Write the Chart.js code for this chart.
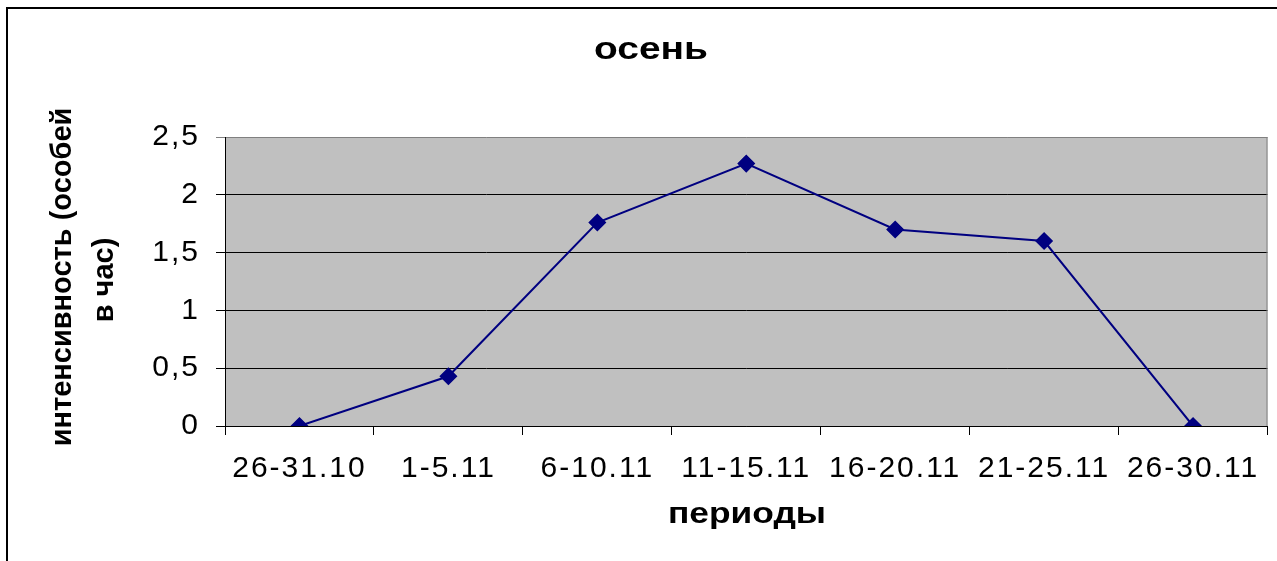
<!DOCTYPE html>
<html>
<head>
<meta charset="utf-8">
<script src="https://cdn.jsdelivr.net/npm/chart.js@4"></script>
<style>
    html, body { margin: 0; padding: 0; background: #ffffff; }
    #wrap { width: 1277px; height: 561px; position: relative; }
</style>
</head>
<body>
<div id="wrap"><canvas id="myChart" width="1277" height="561"></canvas></div>
<script>
// данные графика
const periods = ["26-31.10", "1-5.11", "6-10.11", "11-15.11", "16-20.11", "21-25.11", "26-30.11"];
const intensity = [0, 0.43, 1.76, 2.27, 1.70, 1.60, 0];
const chartTitle = "осень";
const xTitle = "периоды";
const yTitleLines = ["интенсивность (особей", "в час)"];

const FONT = "'Liberation Sans', Arial, sans-serif";

// текст, растянутый по ширине как в оригинале
function wideText(ctx, text, x, y, width) {
    const w = ctx.measureText(text).width;
    ctx.save();
    ctx.translate(x, y);
    ctx.scale(width / w, 1);
    ctx.fillText(text, 0, 0);
    ctx.restore();
}

// рамка, фон области построения и подписи
const decor = {
    id: 'decor',
    beforeDraw(chart) {
        const ctx = chart.ctx;
        const a = chart.chartArea;
        ctx.save();
        ctx.fillStyle = '#ffffff';
        ctx.fillRect(0, 0, chart.width, chart.height);
        ctx.strokeStyle = '#000000';
        ctx.lineWidth = 2;
        ctx.beginPath();
        ctx.moveTo(7, chart.height + 5);
        ctx.lineTo(7, 8);
        ctx.lineTo(chart.width + 5, 8);
        ctx.stroke();
        ctx.fillStyle = '#c0c0c0';
        ctx.fillRect(a.left, a.top, a.right - a.left, a.bottom - a.top);
        ctx.restore();
        // разрядка подписей делений
        ctx.letterSpacing = '2px';
    },
    afterDraw(chart) {
        const ctx = chart.ctx;
        const a = chart.chartArea;
        ctx.letterSpacing = '0px';
        ctx.save();
        ctx.strokeStyle = '#808080';
        ctx.lineWidth = 1;
        ctx.beginPath();
        ctx.moveTo(a.right - 0.5, a.top);
        ctx.lineTo(a.right - 0.5, a.bottom);
        ctx.stroke();

        ctx.fillStyle = '#000000';
        ctx.textAlign = 'center';
        ctx.textBaseline = 'alphabetic';
        ctx.font = 'bold 31px ' + FONT;
        wideText(ctx, chartTitle, 651, 59, 114);
        ctx.font = 'bold 30px ' + FONT;
        wideText(ctx, xTitle, 747, 523, 158);

        ctx.font = 'bold 29px ' + FONT;
        ctx.textBaseline = 'middle';
        ctx.translate(63, 277);
        ctx.rotate(-Math.PI / 2);
        ctx.fillText(yTitleLines[0], 0, 0);
        ctx.fillText(yTitleLines[1], -3, 42);
        ctx.restore();
    }
};

const ctx = document.getElementById('myChart').getContext('2d');
const chart = new Chart(ctx, {
    type: 'line',
    data: {
        labels: periods,
        datasets: [{
            label: chartTitle,
            data: intensity,
            borderColor: '#000080',
            borderWidth: 2,
            backgroundColor: '#000080',
            pointStyle: 'rectRot',
            pointRadius: 8,
            pointBorderWidth: 1.5,
            pointBorderColor: '#000080',
            pointBackgroundColor: '#000080',
            tension: 0,
            fill: false
        }]
    },
    plugins: [decor],
    options: {
        responsive: false,
        animation: false,
        devicePixelRatio: 1,
        layout: { padding: { left: 0, top: 137, right: 9, bottom: 0 } },
        plugins: {
            legend: { display: false },
            title: { display: false },
            tooltip: { enabled: false }
        },
        scales: {
            x: {
                offset: true,
                grid: {
                    offset: true,
                    drawOnChartArea: false,
                    drawTicks: true,
                    tickLength: 9,
                    color: '#000000'
                },
                border: { display: true, color: '#000000', width: 1 },
                ticks: {
                    color: '#000000',
                    font: { family: FONT, size: 30 },
                    padding: 16,
                    maxRotation: 0,
                    autoSkip: false
                },
                afterFit(scale) { scale.height = 135; }
            },
            y: {
                min: 0,
                max: 2.5,
                grid: {
                    color: (c) => (c.tick && c.tick.value === 2.5 ? '#808080' : '#000000'),
                    tickLength: 9,
                    drawTicks: true
                },
                border: { display: true, color: '#000000', width: 1 },
                ticks: {
                    stepSize: 0.5,
                    color: '#000000',
                    font: { family: FONT, size: 30 },
                    padding: 16,
                    callback: (v) => String(v).replace('.', ',')
                },
                afterFit(scale) { scale.width = 225; }
            }
        }
    }
});
</script>
</body>
</html>
